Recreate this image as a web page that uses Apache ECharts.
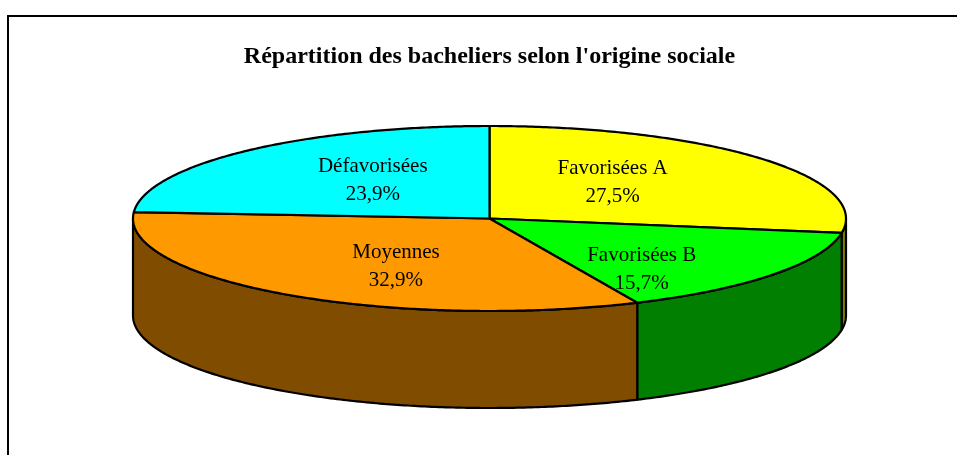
<!DOCTYPE html>
<html>
<head>
<meta charset="utf-8">
<script src="https://cdn.jsdelivr.net/npm/echarts@6/dist/echarts.min.js"></script>
<style>
  html, body { margin: 0; padding: 0; background: #fff; }
  #chart { width: 957px; height: 455px; }
</style>
</head>
<body>
<div id="chart"></div>
<script>
const chartTitle = "Répartition des bacheliers selon l'origine sociale";
const categories = ['Favorisées A', 'Favorisées B', 'Moyennes', 'Défavorisées'];
const shares = [27.5, 15.7, 32.9, 23.9];
const topColors = ['#ffff00', '#00ff00', '#ff9900', '#00ffff'];
const sideColors = ['#7f7f00', '#007f00', '#7f4c00', '#007f7f'];
// small hand nudges of the data labels (px), like Excel's own placement
const labelNudge = [[-7, 0], [16, 10], [4, -6], [0, 3]];

// 3D pie layout (ellipse seen from above, plus a side wall)
const cx = 489.5, cy = 218.5, rx = 356.5, ry = 92.5, depth = 97;
const serif = '"Liberation Serif", "Times New Roman", serif';

const total = shares.reduce((a, b) => a + b, 0);
const startAngle = [];
const endAngle = [];
let acc = 0;
shares.forEach(v => {
  startAngle.push(acc / total * Math.PI * 2);
  acc += v;
  endAngle.push(acc / total * Math.PI * 2);
});

// angle measured clockwise from 12 o'clock
function pt(a, dy) {
  return [cx + rx * Math.sin(a), cy - ry * Math.cos(a) + dy];
}

function arc(a0, a1, dy) {
  const n = Math.max(2, Math.ceil(Math.abs(a1 - a0) / 0.01));
  const out = [];
  for (let k = 0; k <= n; k++) out.push(pt(a0 + (a1 - a0) * k / n, dy));
  return out;
}

function fmtPct(v) {
  return v.toFixed(1).replace('.', ',') + '%';
}

function renderSide(params, api) {
  const i = params.dataIndex;
  const a0 = Math.max(startAngle[i], Math.PI / 2);
  const a1 = Math.min(endAngle[i], Math.PI * 1.5);
  if (a1 <= a0) return { type: 'group', children: [] };
  const points = arc(a0, a1, 0).concat(arc(a1, a0, depth));
  return {
    type: 'polygon',
    shape: { points: points },
    style: { fill: sideColors[i], stroke: '#000', lineWidth: 2.2, lineJoin: 'round' }
  };
}

function renderTop(params, api) {
  const i = params.dataIndex;
  const a0 = startAngle[i], a1 = endAngle[i];
  const points = [[cx, cy]].concat(arc(a0, a1, 0));
  const mid = (a0 + a1) / 2;
  const lx = cx + 0.48 * rx * Math.sin(mid) + labelNudge[i][0];
  const ly = cy + 4 - 0.66 * ry * Math.cos(mid) + labelNudge[i][1];
  return {
    type: 'group',
    children: [
      {
        type: 'polygon',
        shape: { points: points },
        style: { fill: topColors[i], stroke: '#000', lineWidth: 2.2, lineJoin: 'round' }
      },
      {
        type: 'text',
        x: lx,
        y: ly,
        style: {
          text: categories[i] + '\n' + fmtPct(api.value(0)),
          font: '21px ' + serif,
          fill: '#000',
          lineHeight: 28,
          align: 'center',
          verticalAlign: 'middle',
          textAlign: 'center',
          textVerticalAlign: 'middle'
        }
      }
    ]
  };
}

const chart = echarts.init(document.getElementById('chart'));
chart.setOption({
  animation: false,
  backgroundColor: '#fff',
  graphic: [
    {
      type: 'polyline',
      shape: { points: [[8, 455], [8, 16], [957, 16]] },
      style: { stroke: '#000', lineWidth: 2, fill: null }
    },
    {
      type: 'text',
      x: 489.5,
      y: 57,
      style: {
        text: chartTitle,
        font: 'bold 24px ' + serif,
        fill: '#000',
        align: 'center',
        verticalAlign: 'middle',
        textAlign: 'center',
        textVerticalAlign: 'middle'
      }
    }
  ],
  series: [
    {
      type: 'custom',
      coordinateSystem: 'none',
      z: 1,
      data: shares.map(v => [v]),
      renderItem: renderSide
    },
    {
      type: 'custom',
      coordinateSystem: 'none',
      z: 2,
      data: shares.map(v => [v]),
      renderItem: renderTop
    }
  ]
});
</script>
</body>
</html>
